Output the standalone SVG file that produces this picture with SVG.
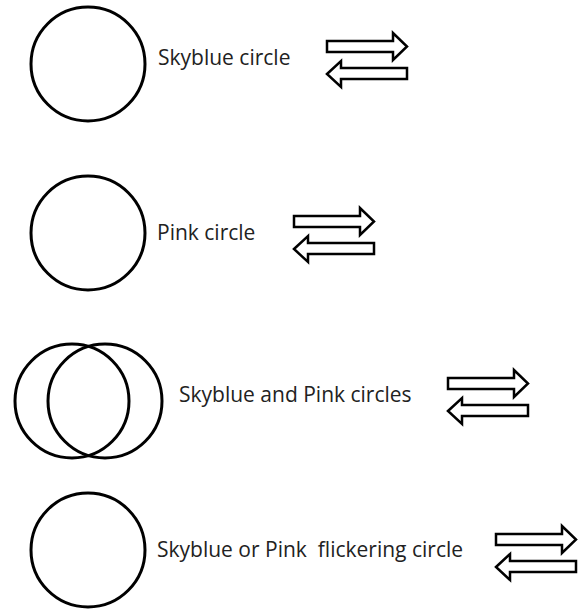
<svg xmlns="http://www.w3.org/2000/svg" xmlns:xlink="http://www.w3.org/1999/xlink" width="583" height="610" viewBox="0 0 583 610">
<style>
.c{fill:none;stroke:#000;stroke-width:3}
.a{fill:#fff;stroke:#000;stroke-width:2.5;stroke-linejoin:miter}
.t{font-family:"Open Sans","Noto Sans",sans-serif;font-size:21px;fill:#222;white-space:pre}
</style>
<defs>
<g id="swap">
<path class="a" d="M1,1 H67 V-7 L81,6.5 L67,20 V12 H1 Z"/>
<path class="a" d="M1,34 L15,21 V28 H81 V39 H15 V47 Z"/>
</g>
</defs>
<rect width="583" height="610" fill="#fff"/>
<g id="row1">
<circle class="c" cx="88" cy="64" r="57"/>
<text class="t" x="158" y="65">Skyblue circle</text>
<use xlink:href="#swap" x="326" y="40"/>
</g>
<g id="row2">
<circle class="c" cx="88" cy="233" r="57"/>
<text class="t" x="157" y="240">Pink circle</text>
<use xlink:href="#swap" x="293" y="215"/>
</g>
<g id="row3">
<circle class="c" cx="72" cy="401" r="57"/>
<circle class="c" cx="105" cy="401" r="57"/>
<text class="t" x="179" y="402">Skyblue and Pink circles</text>
<use xlink:href="#swap" x="447" y="377"/>
</g>
<g id="row4">
<circle class="c" cx="88" cy="550" r="57"/>
<text class="t" x="157" y="557">Skyblue or Pink  flickering circle</text>
<use xlink:href="#swap" x="495" y="533"/>
</g>
<g id="connectors"/>
</svg>
